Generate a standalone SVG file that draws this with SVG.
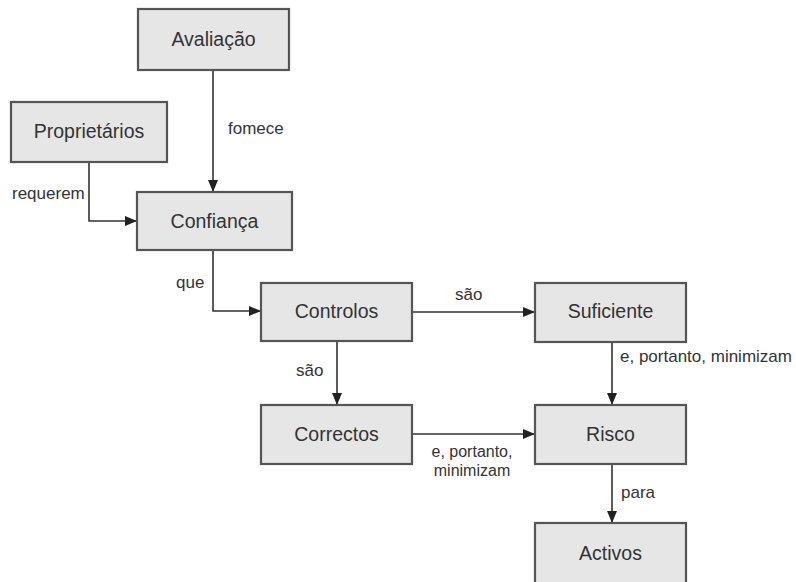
<svg xmlns="http://www.w3.org/2000/svg" width="796" height="582" viewBox="0 0 796 582">
<style>
.box{fill:#e6e6e6;stroke:#555;stroke-width:2.2}
.nt{font-family:"Liberation Sans",Arial,sans-serif;font-size:19.5px;fill:#333;text-anchor:middle}
.lb{font-family:"Liberation Sans",Arial,sans-serif;font-size:17px;fill:#333}
.sm{font-size:16px;text-anchor:middle}
.cn{fill:none;stroke:#333;stroke-width:1.6}
</style>
<defs>
<marker id="ah" markerWidth="12" markerHeight="10" refX="12" refY="5" orient="auto" markerUnits="userSpaceOnUse">
<path d="M0,0 L12,5 L0,10 Z" fill="#222"/>
</marker>
</defs>
<rect width="796" height="582" fill="#fff"/>
<g id="connectors">
<path class="cn" d="M213,70 V192" marker-end="url(#ah)"/>
<path class="cn" d="M89,162 V221 H137" marker-end="url(#ah)"/>
<path class="cn" d="M213,250 V311 H261" marker-end="url(#ah)"/>
<path class="cn" d="M412,312 H535" marker-end="url(#ah)"/>
<path class="cn" d="M337,341 V405" marker-end="url(#ah)"/>
<path class="cn" d="M412,434 H535" marker-end="url(#ah)"/>
<path class="cn" d="M612,342 V405" marker-end="url(#ah)"/>
<path class="cn" d="M612,464 V523" marker-end="url(#ah)"/>
<text class="lb" x="228" y="134">fomece</text>
<text class="lb" x="12" y="199">requerem</text>
<text class="lb" x="176" y="288">que</text>
<text class="lb" x="455" y="300">são</text>
<text class="lb" x="296" y="376">são</text>
<text class="lb sm" x="472" y="457">e, portanto,</text>
<text class="lb sm" x="472" y="476">minimizam</text>
<text class="lb" x="620" y="362">e, portanto, minimizam</text>
<text class="lb" x="621" y="498">para</text>
</g>
<g id="avaliacao"><rect class="box" x="138" y="9" width="151" height="61"/><text class="nt" x="213.5" y="46">Avaliação</text></g>
<g id="proprietarios"><rect class="box" x="11" y="102" width="156" height="60"/><text class="nt" x="89" y="138">Proprietários</text></g>
<g id="confianca"><rect class="box" x="137" y="192" width="155" height="58"/><text class="nt" x="214.5" y="228">Confiança</text></g>
<g id="controlos"><rect class="box" x="261" y="283" width="151" height="58"/><text class="nt" x="336.5" y="318">Controlos</text></g>
<g id="suficiente"><rect class="box" x="535" y="283" width="151" height="59"/><text class="nt" x="610.5" y="318">Suficiente</text></g>
<g id="correctos"><rect class="box" x="261" y="405" width="151" height="59"/><text class="nt" x="336.5" y="441">Correctos</text></g>
<g id="risco"><rect class="box" x="535" y="405" width="151" height="59"/><text class="nt" x="610.5" y="441">Risco</text></g>
<g id="activos"><rect class="box" x="535" y="523" width="151" height="64"/><text class="nt" x="610.5" y="560">Activos</text></g>
</svg>
